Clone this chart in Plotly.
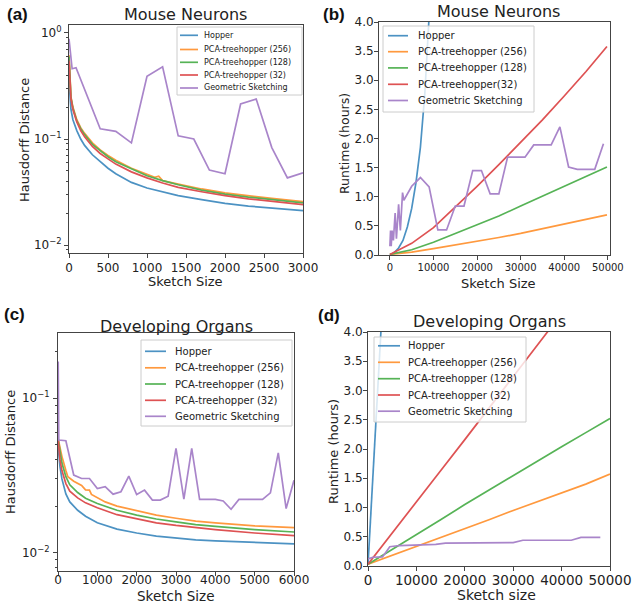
import plotly.graph_objects as go

# ---------------- data ----------------
NAMES = ["Hopper", "PCA-treehopper (256)", "PCA-treehopper (128)", "PCA-treehopper (32)", "Geometric Sketching"]
NAMES_B = ["Hopper", "PCA-treehopper (256)", "PCA-treehopper (128)", "PCA-treehopper(32)", "Geometric Sketching"]

# (a) Mouse Neurons - Hausdorff distance
a_x = [0, 25, 50, 100, 150, 200, 300, 400, 500, 600, 800, 1000, 1200, 1400, 1700, 2000, 2300, 2600, 3000]
a_hopper = [0.35, 0.19, 0.152, 0.12, 0.1, 0.087, 0.071, 0.061, 0.053, 0.047, 0.039, 0.0345, 0.0315, 0.0292, 0.0268, 0.0247, 0.0233, 0.0222, 0.0211]
a_x256 = [0, 25, 50, 100, 150, 200, 300, 400, 500, 600, 800, 1000, 1100, 1150, 1200, 1400, 1700, 2000, 2300, 2600, 3000]
a_pca256 = [0.62, 0.25, 0.2, 0.152, 0.128, 0.113, 0.092, 0.079, 0.07, 0.063, 0.053, 0.046, 0.0435, 0.0445, 0.0405, 0.0375, 0.0338, 0.031, 0.029, 0.0275, 0.0257]
a_pca128 = [0.6, 0.245, 0.195, 0.148, 0.125, 0.11, 0.089, 0.077, 0.068, 0.061, 0.052, 0.045, 0.0405, 0.037, 0.033, 0.0302, 0.0283, 0.0268, 0.025]
a_pca32 = [0.55, 0.24, 0.19, 0.145, 0.12, 0.105, 0.085, 0.073, 0.065, 0.058, 0.049, 0.043, 0.0385, 0.035, 0.0318, 0.0292, 0.0273, 0.0258, 0.024]
a_geo_x = [0, 40, 90, 400, 600, 800, 1000, 1200, 1400, 1600, 1800, 2000, 2200, 2400, 2600, 2800, 3000]
a_geo = [0.88, 0.46, 0.47, 0.125, 0.118, 0.092, 0.39, 0.48, 0.107, 0.10, 0.051, 0.047, 0.214, 0.238, 0.083, 0.043, 0.048]

# (b) Mouse Neurons - runtime (hours)
b_x = [0, 5000, 10000, 15000, 20000, 25000, 30000, 35000, 40000, 45000, 49800]
b_pca256 = [0.01, 0.05, 0.11, 0.17, 0.23, 0.3, 0.37, 0.45, 0.53, 0.61, 0.69]
b_pca128 = [0.01, 0.09, 0.22, 0.37, 0.52, 0.67, 0.84, 1.01, 1.18, 1.35, 1.51]
b_pca32 = [0.01, 0.2, 0.47, 0.82, 1.18, 1.55, 1.93, 2.32, 2.73, 3.15, 3.58]
b_hopper_x = [0, 1000, 2000, 3000, 4000, 5000, 6000, 7000, 8000, 9000]
b_hopper = [0.0, 0.04, 0.12, 0.25, 0.48, 0.8, 1.25, 1.85, 2.75, 4.1]
b_geo_x = [0, 150, 300, 500, 800, 1200, 1500, 2000, 2400, 2900, 3200, 5000, 7000, 9000, 11000, 13000, 15000, 17000,
           19000, 21000, 23000, 25000, 27000, 29000, 31000, 33000, 35000, 37000, 39000, 41000, 43000, 45000, 47000, 49000]
b_geo = [0.15, 0.42, 0.15, 0.42, 0.25, 0.72, 0.28, 0.87, 0.42, 1.07, 0.94, 1.18, 1.33, 1.17, 0.43, 0.43, 0.84, 0.84,
         1.45, 1.45, 1.05, 1.05, 1.68, 1.68, 1.68, 1.89, 1.89, 1.89, 2.20, 1.51, 1.47, 1.47, 1.47, 1.91]

# (c) Developing Organs - Hausdorff distance
c_x = [0, 50, 100, 200, 300, 500, 700, 1000, 1500, 2000, 2500, 3000, 3500, 4000, 5000, 6000]
c_hopper = [0.05, 0.036, 0.03, 0.024, 0.0213, 0.0188, 0.0172, 0.0156, 0.0142, 0.0134, 0.0128, 0.0124, 0.0121, 0.0119, 0.0116, 0.0114]
c_x256 = [0, 50, 100, 200, 250, 400, 600, 700, 800, 850, 1000, 1200, 1500, 2000, 2500, 3000, 3500, 4000, 5000, 6000]
c_pca256 = [0.055, 0.048, 0.042, 0.034, 0.031, 0.029, 0.0272, 0.0255, 0.0254, 0.0238, 0.0228, 0.0213, 0.0200, 0.0187, 0.0175, 0.0167, 0.0160, 0.0156, 0.0149, 0.0145]
c_pca128 = [0.055, 0.044, 0.038, 0.031, 0.0275, 0.0245, 0.0225, 0.0208, 0.0188, 0.0175, 0.0165, 0.0158, 0.0152, 0.0148, 0.0141, 0.0136]
c_pca32 = [0.055, 0.04, 0.034, 0.028, 0.025, 0.0226, 0.021, 0.0195, 0.0176, 0.0165, 0.0156, 0.015, 0.0145, 0.0141, 0.0134, 0.0129]
c_geo_x = [5, 20, 200, 400, 600, 800, 1000, 1200, 1400, 1600, 1800, 2000, 2200, 2400, 2600, 2800, 3000, 3200,
           3400, 3600, 3800, 4000, 4200, 4400, 4600, 4800, 5000, 5200, 5400, 5600, 5800, 6000]
c_geo = [0.173, 0.0536, 0.053, 0.0318, 0.0302, 0.0302, 0.026, 0.0267, 0.0239, 0.0248, 0.0313, 0.0238, 0.0254, 0.0219,
         0.0219, 0.0232, 0.0473, 0.0222, 0.0473, 0.0221, 0.0221, 0.0221, 0.0216, 0.0191, 0.0221, 0.0221, 0.0221,
         0.0221, 0.0244, 0.0443, 0.0193, 0.0294]

# (d) Developing Organs - runtime (hours)
d_x = [0, 5000, 10000, 15000, 20000, 25000, 30000, 35000, 40000, 45000, 50000]
d_pca256 = [0.03, 0.18, 0.33, 0.48, 0.64, 0.79, 0.95, 1.1, 1.26, 1.4, 1.57]
d_pca128 = [0.03, 0.28, 0.53, 0.79, 1.05, 1.3, 1.55, 1.79, 2.04, 2.28, 2.52]
d_red_x = [0, 5000, 10000, 15000, 20000, 25000, 30000, 35000, 38000]
d_pca32 = [0.03, 0.57, 1.1, 1.63, 2.16, 2.7, 3.24, 3.78, 4.1]
d_hopper_x = [0, 500, 1000, 1500, 2000, 2500, 3000]
d_hopper = [0.02, 0.75, 1.5, 2.25, 3.0, 3.75, 4.5]
d_geo_x = [0, 1000, 3000, 4500, 6500, 14000, 16000, 30000, 32000, 42000, 44000, 48000]
d_geo = [0.12, 0.15, 0.155, 0.33, 0.35, 0.37, 0.39, 0.40, 0.44, 0.44, 0.49, 0.49]

# ---------------- styling ----------------
W, H = 633, 604
FONT = "DejaVu Sans"
COLORS = ["#4c92c3", "#ff993e", "#56b356", "#de5253", "#a985ca"]
LW = 1.7
FRAME = "#444"


def fx(px):
    return px / W


def fy(py):
    return 1 - py / H


fig = go.Figure()


def add(x, y, ci, xa, ya):
    fig.add_trace(go.Scatter(x=x, y=y, mode="lines", line=dict(color=COLORS[ci], width=LW),
                             xaxis=xa, yaxis=ya, showlegend=False, hoverinfo="skip"))


# panel a
add(a_x, a_hopper, 0, "x", "y")
add(a_x256, a_pca256, 1, "x", "y")
add(a_x, a_pca128, 2, "x", "y")
add(a_x, a_pca32, 3, "x", "y")
add(a_geo_x, a_geo, 4, "x", "y")
# panel b
add(b_hopper_x, b_hopper, 0, "x2", "y2")
add(b_x, b_pca256, 1, "x2", "y2")
add(b_x, b_pca128, 2, "x2", "y2")
add(b_x, b_pca32, 3, "x2", "y2")
add(b_geo_x, b_geo, 4, "x2", "y2")
# panel c
add(c_x, c_hopper, 0, "x3", "y3")
add(c_x256, c_pca256, 1, "x3", "y3")
add(c_x, c_pca128, 2, "x3", "y3")
add(c_x, c_pca32, 3, "x3", "y3")
add(c_geo_x, c_geo, 4, "x3", "y3")
# panel d
add(d_hopper_x, d_hopper, 0, "x4", "y4")
add(d_x, d_pca256, 1, "x4", "y4")
add(d_x, d_pca128, 2, "x4", "y4")
add(d_red_x, d_pca32, 3, "x4", "y4")
add(d_geo_x, d_geo, 4, "x4", "y4")


def axis(size, **kw):
    d = dict(showline=True, mirror=True, linecolor=FRAME, linewidth=1, ticks="outside", ticklen=4,
             tickwidth=1, tickcolor=FRAME, showgrid=False, zeroline=False, automargin=False,
             tickfont=dict(family=FONT, size=size, color="#222"))
    d.update(kw)
    return d


LOG_TEXT = ["10<sup>0</sup>", "10<sup>−1</sup>", "10<sup>−2</sup>"]
minor_a = [0.009] + [k / 100 for k in range(2, 10)] + [k / 10 for k in range(2, 10)]
minor_c = [0.008, 0.009] + [k / 100 for k in range(2, 10)] + [0.2]

fig.update_layout(
    width=W, height=H, margin=dict(l=0, r=0, t=0, b=0, pad=0),
    paper_bgcolor="white", plot_bgcolor="white", showlegend=False,
    xaxis=axis(12, domain=[fx(69), fx(303)], range=[0, 3000], tickvals=[0, 500, 1000, 1500, 2000, 2500, 3000],
               anchor="y", ticklabelstandoff=0),
    yaxis=axis(12, domain=[fy(253), fy(25)], type="log", range=[-2.075, 0.075], tickvals=[1, 0.1, 0.01],
               ticktext=LOG_TEXT, anchor="x",
               minor=dict(tickvals=minor_a, ticks="outside", ticklen=2, tickcolor=FRAME)),
    xaxis2=axis(10, domain=[fx(379), fx(610)], range=[-2500, 50500], tickvals=[0, 10000, 20000, 30000, 40000, 50000],
                tickformat="d", anchor="y2", ticklabelstandoff=-1),
    yaxis2=axis(12, domain=[fy(255), fy(22)], range=[0, 4], dtick=0.5, tick0=0, tickformat=".1f", anchor="x2",
                ticklabelstandoff=-2),
    xaxis3=axis(12, domain=[fx(58), fx(294)], range=[0, 6000], dtick=1000, tick0=0, anchor="y3",
                ticklabelstandoff=-6),
    yaxis3=axis(12, domain=[fy(571), fy(333)], type="log", range=[-2.119, -0.578], tickvals=[0.1, 0.01],
                ticktext=LOG_TEXT[1:], anchor="x3", ticklabelstandoff=1,
                minor=dict(tickvals=minor_c, ticks="outside", ticklen=2, tickcolor=FRAME)),
    xaxis4=axis(13.5, domain=[fx(368), fx(610)], range=[0, 50000], dtick=10000, tick0=0, tickformat="d",
                anchor="y4", ticklabelstandoff=-2),
    yaxis4=axis(12, domain=[fy(566), fy(332)], range=[0, 4], dtick=0.5, tick0=0, tickformat=".1f", anchor="x4",
                ticklabelstandoff=-2),
)

annotations = []
shapes = []


def text(s, x, y, size, angle=0, family=FONT, color="#222", xanchor="center", bold=False):
    if bold:
        s = "<b>" + s + "</b>"
    annotations.append(dict(text=s, x=fx(x), y=fy(y), xref="paper", yref="paper", showarrow=False,
                            xanchor=xanchor, yanchor="middle", textangle=angle,
                            font=dict(family=family, size=size, color=color)))


# titles
text("Mouse Neurons", 185, 15, 16)
text("Mouse Neurons", 498, 11, 16)
text("Developing Organs", 176, 326, 16)
text("Developing Organs", 489, 321, 16)
# panel labels
for lab, x, y in [("(a)", 17, 15), ("(b)", 334, 15), ("(c)", 15, 314), ("(d)", 329, 315)]:
    text(lab, x, y, 17, family="Liberation Sans", color="#111", bold=True)
# axis titles
text("Sketch Size", 185, 281, 13)
text("Hausdorff Distance", 25, 140, 13, angle=-90)
text("Sketch Size", 498, 283, 13)
text("Runtime (hours)", 344, 144, 12.5, angle=-90)
text("Sketch Size", 176, 596, 13.5)
text("Hausdorff Distance", 10, 452, 13, angle=-90)
text("Sketch size", 496, 595, 14)
text("Runtime (hours)", 333, 452, 13, angle=-90)


def legend(names, box, rows, line_x, text_x, fs):
    x0, y0, x1, y1 = box
    shapes.append(dict(type="rect", xref="paper", yref="paper", x0=fx(x0), x1=fx(x1), y0=fy(y1), y1=fy(y0),
                       fillcolor="rgba(255,255,255,0.8)", line=dict(color="#cccccc", width=1), layer="above"))
    for name, col, yy in zip(names, COLORS, rows):
        shapes.append(dict(type="line", xref="paper", yref="paper", x0=fx(line_x[0]), x1=fx(line_x[1]),
                           y0=fy(yy), y1=fy(yy), line=dict(color=col, width=LW), layer="above"))
        text(name, text_x, yy, fs, xanchor="left", color="#222")


legend(NAMES, (177, 27, 302, 95), [35.3, 49.5, 62.3, 75.0, 88.0], (180, 198), 202, 8)
legend(NAMES_B, (383, 26, 534, 112), [35.7, 51.7, 67.9, 84.3, 100.5], (388, 408), 416, 10)
legend(NAMES, (141, 340, 292, 426), [351.3, 367.8, 384.0, 400.3, 416.3], (145, 166), 173, 10)
legend(NAMES, (374, 337, 526, 422), [345.8, 362.3, 378.7, 395.0, 411.2], (378, 400), 406, 10)

fig.update_layout(annotations=annotations, shapes=shapes)
fig.write_html(
    "out.html",
    config={"displayModeBar": False, "staticPlot": True},
    post_script="document.body.style.margin='0px';document.body.style.padding='0px';"
                "document.body.style.overflow='hidden';",
)
